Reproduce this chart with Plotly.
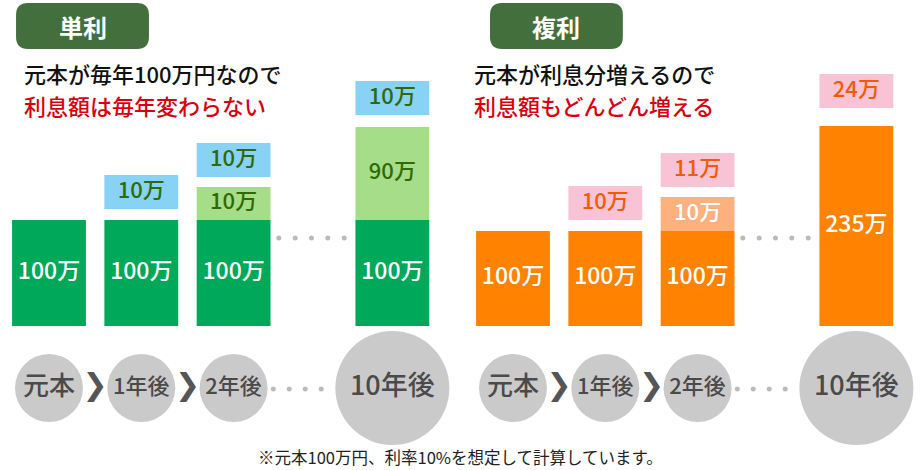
import plotly.graph_objects as go

# ---------------- data ----------------
steps = ["元本", "1年後", "2年後", "10年後"]
slot = [0, 1, 2, 3.72]            # position of each step along its row

# 単利 (simple interest), values in 万円
simple_principal = [100, 100, 100, 100]
simple_received = [None, None, 10, 90]      # interest already received
simple_new = [None, 10, 10, 10]             # interest earned this year

# 複利 (compound interest), values in 万円
comp_principal = [100, 100, 100, 235]
comp_added = [None, None, 10, None]         # interest added to principal
comp_new = [None, 10, 11, 24]               # interest earned this year

# display heights (the illustration is not drawn to scale)
simple_principal_h = [106, 106, 106, 106]
simple_received_h = [0, 0, 33, 93]
simple_new_base = [0, 117, 149, 211]
comp_principal_h = [95, 95, 95, 200]
comp_added_h = [0, 0, 34, 0]
comp_new_base = [0, 106, 139, 218]
box_h = 34

titles = ["単利", "複利"]
lead_black = ["元本が毎年100万円なので", "元本が利息分増えるので"]
lead_red = ["利息額は毎年変わらない", "利息額もどんどん増える"]
footnote = "※元本100万円、利率10%を想定して計算しています。"

# ---------------- style ----------------
FONT = "Noto Sans CJK JP"
C_GREEN = "#00a85a"
C_LGREEN = "#a6dd88"
C_BLUE = "#87d2f5"
C_DKGREEN_TXT = "#2f6a05"
C_ORANGE = "#ff8200"
C_LORANGE = "#ffb07f"
C_PINK = "#f8c3d4"
C_PINK_TXT = "#f25a05"
C_BADGE = "#426f3c"
C_CIRCLE = "#b4b4b4"
C_CIRCLE_TXT = "#4a4a4a"
C_DOT = "#bbbbbb"
C_RED = "#d9000d"
BAR_W = 0.80

fig = go.Figure()


def sel(xs, vals, extra=None):
    out_x, out_v, out_e = [], [], []
    for i, v in enumerate(vals):
        if v is not None:
            out_x.append(xs[i])
            out_v.append(v)
            out_e.append(extra[i] if extra is not None else None)
    return out_x, out_v, out_e


def add_panel(xa, principal, principal_h, mid, mid_h, new, new_base,
              c_main, c_mid, c_new, mid_txt, new_txt):
    # principal bars
    fig.add_trace(go.Bar(x=slot, y=principal_h, base=[0] * len(slot), width=BAR_W,
                         marker=dict(color=c_main, line=dict(width=0)),
                         xaxis=xa, yaxis="y", hoverinfo="skip"))
    fig.add_trace(go.Scatter(x=slot, y=[h / 2 for h in principal_h], mode="text",
                             text=[f"{v}万" for v in principal],
                             textfont=dict(family=FONT, size=23, color="#ffffff", weight=500),
                             xaxis=xa, yaxis="y", hoverinfo="skip"))
    # interest stacked on principal
    mx, mv, mb = sel(slot, mid, principal_h)
    mh = [mid_h[slot.index(x)] for x in mx]
    fig.add_trace(go.Bar(x=mx, y=mh, base=mb, width=BAR_W,
                         marker=dict(color=c_mid, line=dict(width=0)),
                         xaxis=xa, yaxis="y", hoverinfo="skip"))
    fig.add_trace(go.Scatter(x=mx, y=[b + h / 2 for b, h in zip(mb, mh)], mode="text",
                             text=[f"{v}万" for v in mv],
                             textfont=dict(family=FONT, size=22, color=mid_txt, weight=500),
                             xaxis=xa, yaxis="y", hoverinfo="skip"))
    # this year's interest (floating box)
    nx, nv, nb = sel(slot, new, new_base)
    fig.add_trace(go.Bar(x=nx, y=[box_h] * len(nx), base=nb, width=BAR_W,
                         marker=dict(color=c_new, line=dict(width=0)),
                         xaxis=xa, yaxis="y", hoverinfo="skip"))
    fig.add_trace(go.Scatter(x=nx, y=[b + box_h / 2 for b in nb], mode="text",
                             text=[f"{v}万" for v in nv],
                             textfont=dict(family=FONT, size=22, color=new_txt, weight=500),
                             xaxis=xa, yaxis="y", hoverinfo="skip"))
    # dotted "..." between bars
    fig.add_trace(go.Scatter(x=[2.49 + 0.177 * i for i in range(5)], y=[88] * 5,
                             mode="markers", marker=dict(size=5, color=C_DOT),
                             xaxis=xa, yaxis="y", hoverinfo="skip"))
    # step circles
    fig.add_trace(go.Scatter(x=slot, y=[-62] * 4, mode="markers",
                             marker=dict(size=[68, 68, 68, 114], color=C_CIRCLE,
                                         line=dict(width=0)),
                             cliponaxis=False, xaxis=xa, yaxis="y", hoverinfo="skip"))
    fig.add_trace(go.Scatter(x=slot, y=[-62] * 4, mode="text", text=steps,
                             textfont=dict(family=FONT, size=[26, 22, 22, 27],
                                           color=C_CIRCLE_TXT, weight=500),
                             cliponaxis=False, xaxis=xa, yaxis="y", hoverinfo="skip"))
    # chevrons
    fig.add_trace(go.Scatter(x=[0.5, 1.5], y=[-61, -61], mode="text", text=["❯", "❯"],
                             textfont=dict(family="DejaVu Sans", size=30, color="#555555"),
                             xaxis=xa, yaxis="y", hoverinfo="skip"))
    # dots between circles
    fig.add_trace(go.Scatter(x=[2.43 + 0.173 * i for i in range(4)], y=[-63] * 4,
                             mode="markers", marker=dict(size=5, color=C_DOT),
                             xaxis=xa, yaxis="y", hoverinfo="skip"))


add_panel("x", simple_principal, simple_principal_h, simple_received, simple_received_h,
          simple_new, simple_new_base, C_GREEN, C_LGREEN, C_BLUE,
          C_DKGREEN_TXT, C_DKGREEN_TXT)
add_panel("x2", comp_principal, comp_principal_h, comp_added, comp_added_h,
          comp_new, comp_new_base, C_ORANGE, C_LORANGE, C_PINK,
          "#ffffff", C_PINK_TXT)


def rounded(x0, x1, y0, y1, rx, ry):
    return (f"M {x0+rx},{y1} L {x1-rx},{y1} Q {x1},{y1} {x1},{y1-ry} "
            f"L {x1},{y0+ry} Q {x1},{y0} {x1-rx},{y0} L {x0+rx},{y0} "
            f"Q {x0},{y0} {x0},{y0+ry} L {x0},{y1-ry} Q {x0},{y1} {x0+rx},{y1} Z")


shapes = []
annotations = []
badge_x = [(-0.357, 1.083), (-0.249, 1.19)]
lead_x = [-0.29, -0.444]
for i, xa in enumerate(["x", "x2"]):
    bx0, bx1 = badge_x[i]
    shapes.append(dict(type="path", xref=xa, yref="y",
                       path=rounded(bx0, bx1, 277, 323, 0.13, 12),
                       fillcolor=C_BADGE, line=dict(width=0), layer="above"))
    annotations.append(dict(x=(bx0 + bx1) / 2, y=300, xref=xa, yref="y", text=titles[i],
                            showarrow=False, font=dict(family=FONT, size=24, color="#ffffff",
                                                       weight="bold")))
    annotations.append(dict(x=lead_x[i], y=253, xref=xa, yref="y", text=lead_black[i],
                            xanchor="left", showarrow=False,
                            font=dict(family=FONT, size=22, color="#111111", weight=500)))
    annotations.append(dict(x=lead_x[i], y=221, xref=xa, yref="y", text=lead_red[i],
                            xanchor="left", showarrow=False,
                            font=dict(family=FONT, size=22, color=C_RED, weight=500)))

annotations.append(dict(x=0.5, y=-131, xref="paper", yref="y", text=footnote,
                        showarrow=False, font=dict(family=FONT, size=16.5, color="#222222")))

ax_common = dict(visible=False, showgrid=False, zeroline=False, fixedrange=True)
fig.update_layout(
    width=920, height=470,
    margin=dict(l=0, r=0, t=0, b=0),
    paper_bgcolor="white", plot_bgcolor="white",
    showlegend=False, barmode="overlay",
    xaxis=dict(domain=[0, 0.5], range=[-0.5309, 4.4529], **ax_common),
    xaxis2=dict(domain=[0.5, 1], range=[-0.5742, 4.4095], anchor="y", **ax_common),
    yaxis=dict(domain=[0, 1], range=[-144, 326], **ax_common),
    shapes=shapes, annotations=annotations,
)

fig.write_html("out.html")
